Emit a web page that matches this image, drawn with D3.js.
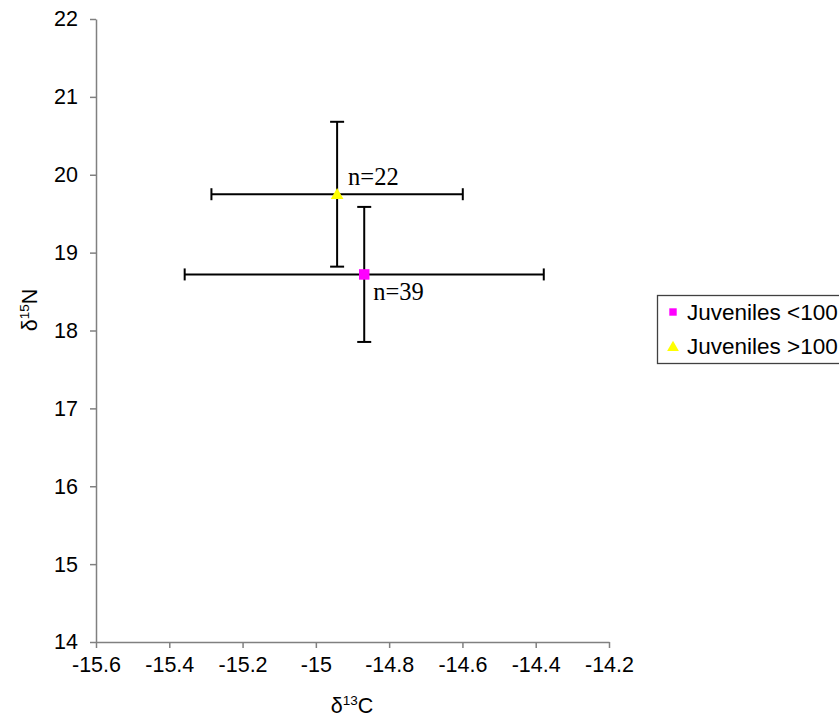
<!DOCTYPE html>
<html>
<head>
<meta charset="utf-8">
<script src="https://cdn.jsdelivr.net/npm/d3@7"></script>
<style>
  html, body { margin: 0; padding: 0; background: #fff; }
  svg { display: block; }
</style>
</head>
<body>
<svg id="chart" width="839" height="725"></svg>
<script>
// Mean stable isotope values (± SD) per size group
const groups = ["Juveniles <100", "Juveniles >100"];
const carbonMean = [-14.868, -14.942];
const carbonSD = [0.49, 0.343];
const nitrogenMean = [18.72, 19.75];
const nitrogenSD = [0.867, 0.93];
const sampleLabels = ["n=39", "n=22"];
const colors = ["#ff00ff", "#ffff00"];
const shapes = [d3.symbolSquare, d3.symbolTriangle];

const xTicks = [-15.6, -15.4, -15.2, -15, -14.8, -14.6, -14.4, -14.2];
const yTicks = [14, 15, 16, 17, 18, 19, 20, 21, 22];

const sans = "'Liberation Sans', Arial, sans-serif";
const serif = "'Liberation Serif', 'Times New Roman', serif";

const svg = d3.select("#chart");
const x = d3.scaleLinear().domain([-15.6, -14.2]).range([96, 609]);
const y = d3.scaleLinear().domain([14, 22]).range([642, 19]);

const axisColor = "#808080";
const tickFont = 21.5;

// X axis
const gx = svg.append("g").attr("transform", `translate(0,${y(14)})`)
  .call(d3.axisBottom(x).tickValues(xTicks).tickSize(6).tickSizeOuter(0)
    .tickFormat(d => String(+d.toFixed(1))));
gx.select(".domain").attr("stroke", axisColor).attr("stroke-width", 1.5);
gx.selectAll(".tick line").attr("stroke", axisColor).attr("stroke-width", 1.5);
gx.selectAll(".tick text").style("font-size", tickFont + "px").style("font-family", sans)
  .attr("fill", "#000").attr("y", 15).attr("dy", "0.71em");

// Y axis
const gy = svg.append("g").attr("transform", `translate(${x(-15.6)},0)`)
  .call(d3.axisLeft(y).tickValues(yTicks).tickSize(6).tickSizeOuter(0).tickFormat(d3.format("d")));
gy.select(".domain").attr("stroke", axisColor).attr("stroke-width", 1.5);
gy.selectAll(".tick line").attr("stroke", axisColor).attr("stroke-width", 1.5);
gy.selectAll(".tick text").style("font-size", tickFont + "px").style("font-family", sans)
  .attr("fill", "#000").attr("x", -18);

// Axis titles
const xt = svg.append("text").attr("x", 352).attr("y", 713).attr("text-anchor", "middle")
  .style("font-family", sans).style("font-size", tickFont + "px");
xt.append("tspan").text("δ");
xt.append("tspan").style("font-size", "13.5px").attr("dy", -8).text("13");
xt.append("tspan").attr("dy", 8).text("C");

const yt = svg.append("text").attr("transform", `translate(37,${310}) rotate(-90)`)
  .attr("text-anchor", "middle").style("font-family", sans).style("font-size", tickFont + "px");
yt.append("tspan").text("δ");
yt.append("tspan").style("font-size", "13.5px").attr("dy", -8).text("15");
yt.append("tspan").attr("dy", 8).text("N");

// Error bars
const data = groups.map((g, i) => ({
  g, cx: carbonMean[i], csd: carbonSD[i], ny: nitrogenMean[i], nsd: nitrogenSD[i],
  label: sampleLabels[i], color: colors[i], shape: shapes[i]
}));

const bars = svg.append("g").attr("stroke", "#000").attr("stroke-width", 2);
data.forEach(d => {
  const px = x(d.cx), py = y(d.ny);
  // horizontal
  bars.append("line").attr("x1", x(d.cx - d.csd)).attr("x2", x(d.cx + d.csd)).attr("y1", py).attr("y2", py);
  bars.append("line").attr("x1", x(d.cx - d.csd)).attr("x2", x(d.cx - d.csd)).attr("y1", py - 6).attr("y2", py + 6);
  bars.append("line").attr("x1", x(d.cx + d.csd)).attr("x2", x(d.cx + d.csd)).attr("y1", py - 6).attr("y2", py + 6);
  // vertical
  bars.append("line").attr("x1", px).attr("x2", px).attr("y1", y(d.ny + d.nsd)).attr("y2", y(d.ny - d.nsd));
  bars.append("line").attr("x1", px - 7).attr("x2", px + 7).attr("y1", y(d.ny + d.nsd)).attr("y2", y(d.ny + d.nsd));
  bars.append("line").attr("x1", px - 7).attr("x2", px + 7).attr("y1", y(d.ny - d.nsd)).attr("y2", y(d.ny - d.nsd));
});

// Markers
svg.append("g").selectAll("path").data(data).join("path")
  .attr("transform", d => `translate(${x(d.cx)},${y(d.ny) + (d.shape === d3.symbolTriangle ? 1 : 0)})`)
  .attr("d", d => d3.symbol().type(d.shape).size(d.shape === d3.symbolTriangle ? 70 : 110)())
  .attr("fill", d => d.color);

// Sample size labels
const nPos = [{dx: 9, dy: 26}, {dx: 11, dy: -9}];
svg.append("g").selectAll("text").data(data).join("text")
  .attr("x", (d, i) => x(d.cx) + nPos[i].dx)
  .attr("y", (d, i) => y(d.ny) + nPos[i].dy)
  .style("font-family", serif)
  .style("font-size", "24.5px")
  .text(d => d.label);

// Legend
const lg = svg.append("g");
lg.append("rect").attr("x", 657.5).attr("y", 295.5).attr("width", 200).attr("height", 68)
  .attr("fill", "#fff").attr("stroke", "#404040").attr("stroke-width", 1.3);
data.forEach((d, i) => {
  const ly = 312 + i * 34.5;
  lg.append("path").attr("transform", `translate(673,${ly + (i ? 1 : 0)})`)
    .attr("d", d3.symbol().type(d.shape).size(i ? 60 : 55)()).attr("fill", d.color);
  lg.append("text").attr("x", 687).attr("y", ly).attr("dy", "0.35em")
    .style("font-family", sans).style("font-size", "22.5px").text(d.g);
});
</script>
</body>
</html>
